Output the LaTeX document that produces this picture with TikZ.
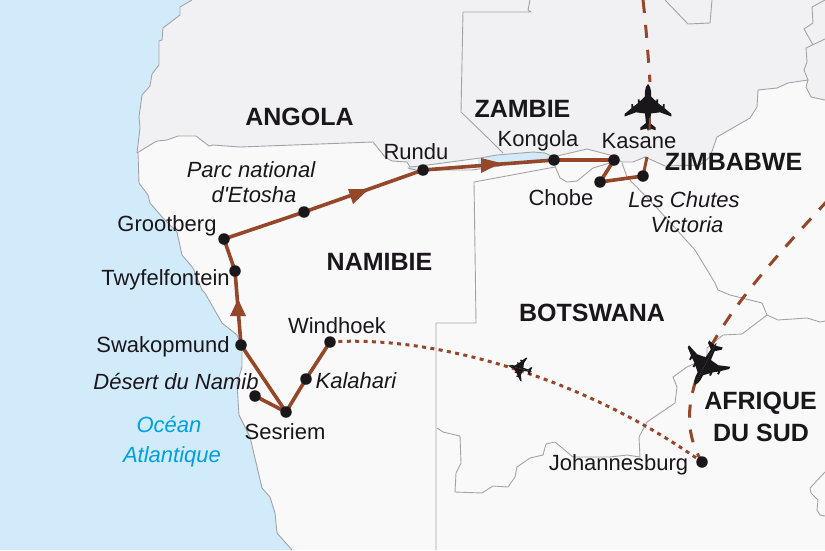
\documentclass[tikz,border=0pt]{standalone}
\usepackage{fontspec}
\setmainfont{Liberation Sans}
\usetikzlibrary{calc}
\font\etoshafont="Liberation Sans/I" at 22pt
\pgfdeclarelayer{maplayer}
\pgfdeclarelayer{routelayer}
\pgfsetlayers{maplayer,routelayer,main}
\definecolor{sea}{HTML}{D2EBFB}
\definecolor{land}{HTML}{FAF9FA}
\definecolor{north}{HTML}{F1F1F3}
\definecolor{border}{HTML}{A5A2A5}
\definecolor{route}{HTML}{95472A}
\definecolor{ink}{HTML}{1A171B}
\definecolor{oceanblue}{HTML}{009FE3}
\tikzset{
  x=1pt,y=-1pt,
  bord/.style={draw=border,line width=0.9pt,line join=round},
  leg/.style={draw=route,line width=3.6pt,line cap=round},
  legdash/.style={draw=route,line width=3pt,dash pattern=on 13pt off 12pt},
  legdot/.style={draw=route,line width=3pt,dash pattern=on 4pt off 4.4pt},
  head/.style={fill=route,draw=none},
  city/.style={circle,fill=ink,draw=none,minimum size=11.5pt,inner sep=0pt},
  lab/.style={anchor=base,inner sep=0pt,text=ink,font=\fontsize{22}{24}\selectfont},
  itl/.style={lab,font=\fontsize{22}{24}\selectfont\itshape},
  sealab/.style={itl,text=oceanblue},
  country/.style={anchor=base,inner sep=0pt,text=ink,font=\fontsize{25}{27}\selectfont\bfseries},
  jet/.pic={
    \foreach \s in {1,-1}{
      \fill[ink,xscale=\s] (0,-23.5) .. controls (2,-21.5) and (2.8,-19.5) .. (3,-16)
        -- (3.1,-11) -- (8.3,-6) -- (8.3,-8.2) -- (10.2,-8.2) -- (10.2,-4.2) -- (14.8,-0.8)
        -- (14.8,-3.4) -- (16.7,-3.4) -- (16.7,0.8) -- (23.3,6.4) -- (23.3,9)
        -- (12,4.8) -- (3,6) -- (2.1,15.5) -- (7.6,20) -- (7.6,22.6) -- (1,21) -- (0,23.5) -- cycle;
    }
  }
}
\begin{document}
\begin{tikzpicture}
\useasboundingbox (0,0) rectangle (825,550);
\begin{pgfonlayer}{maplayer}
\begin{scope}
\clip (0,0) rectangle (825,550);
\fill[land] (0,0) rectangle (825,550);
% sea
\fill[sea] (0,0) -- (192,0) -- (180,7) -- (180,15) -- (163,28) -- (162,40) -- (159,41) -- (159,65) -- (152,74) -- (150,86) -- (142,95) -- (139,117) -- (140,128) -- (137,153)
  -- (139,183) -- (148,195) -- (150,203) -- (163,218) -- (177,232) -- (182,255) -- (193,268) -- (202,290) -- (205,293) -- (222,323) -- (237,335) -- (242,347) -- (242,367) -- (237,383) -- (239,415) -- (250,437) -- (262,488) -- (270,497) -- (275,513) -- (277,533) -- (292,550) -- (0,550) -- cycle;
% northern countries
\fill[north] (192,0) -- (180,7) -- (180,15) -- (163,28) -- (162,40) -- (159,41) -- (159,65) -- (152,74) -- (150,86) -- (142,95) -- (139,117) -- (140,128) -- (137,153)
  -- (155,142) -- (157,141) -- (167,140) -- (178,136) -- (196,136) -- (209,146) -- (213,145) -- (240,147) -- (373,142) -- (385,157) -- (392,161) -- (407,162) -- (410,167) -- (420,166) -- (443,163) -- (480,158) -- (497,155) -- (533,152) -- (545,153) -- (553,157) -- (587,149) -- (610,155) -- (622,162) -- (633,162) -- (645,157) -- (665,166) -- (700,165) -- (710,157) -- (717,137) -- (750,118) -- (757,107) -- (758,90) -- (777,88) -- (788,83) -- (808,80) -- (806,87) -- (811,97) -- (825,100) -- (825,0) -- cycle;
% lake
\fill[sea] (478,159) -- (497,155) -- (533,152) -- (545,153) -- (553,158) -- (553,162) -- (500,166) -- (478,168) -- cycle;
\fill[sea] (407,167) -- (416,166.5) -- (416,170) -- (410,171) -- cycle;
% coast
\path[bord] (192,0) -- (180,7) -- (180,15) -- (163,28) -- (162,40) -- (159,41) -- (159,65) -- (152,74) -- (150,86) -- (142,95) -- (139,117) -- (140,128) -- (137,153)
  (138,153) -- (139,183) -- (148,195) -- (150,203) -- (163,218) -- (177,232) -- (182,255) -- (193,268) -- (202,290) -- (205,293) -- (222,323) -- (237,335) -- (242,347) -- (242,367) -- (237,383) -- (239,415) -- (250,437) -- (262,488) -- (270,497) -- (275,513) -- (277,533) -- (292,550);
% Angola / Namibia, Caprivi
\path[bord] (137,153) -- (155,142) -- (157,141) -- (167,140) -- (178,136) -- (196,136) -- (209,146) -- (213,145) -- (240,147) -- (373,142) -- (385,157) -- (392,161) -- (407,162) -- (410,167) -- (420,166) -- (443,163) -- (480,158) -- (497,155) -- (533,152) -- (545,153) -- (553,157) -- (587,149) -- (610,155) -- (622,162) -- (633,162) -- (645,157) -- (665,166) -- (700,165) -- (710,157) -- (717,137) -- (750,118) -- (757,107) -- (758,90) -- (777,88) -- (788,83) -- (808,80) -- (806,87) -- (811,97) -- (825,100);
\path[bord] (408,168) -- (420,171) -- (443,170) -- (472,170) -- (500,166);
% Zambia / Angola
\path[bord] (530,0) -- (528,10) -- (531,12) -- (463,12) -- (461,112) -- (490,140) -- (503,153);
% north misc
\path[bord] (665,0) -- (688,24) -- (710,23) -- (712,0);
\path[bord] (808,80) -- (804,70) -- (807,62) -- (806,48) -- (825,39);
\path[bord] (813,45) -- (804,29) -- (813,23) -- (812,7) -- (825,0);
% Namibia / Botswana
\path[bord] (555,167) -- (474,182) -- (475,250) -- (476,323) -- (436,323) -- (436,550);
% Chobe
\path[bord] (555,166) -- (560,178) -- (567,182) -- (577,181) -- (593,168) -- (613,162);
% Botswana / Zimbabwe
\path[bord] (622,163) -- (627,177) -- (657,208) -- (695,250) -- (715,283) -- (718,290) -- (730,295) -- (762,303) -- (767,315) -- (742,334) -- (723,335) -- (707,348) -- (707,358) -- (687,367) -- (673,377) -- (677,387) -- (675,403) -- (647,422) -- (639,437) -- (640,457) -- (627,455) -- (610,457) -- (573,457) -- (555,442) -- (546,444) -- (543,455) -- (530,458) -- (517,467) -- (515,477) -- (508,487) -- (493,486) -- (482,493) -- (455,492) -- (456,473) -- (461,463) -- (460,436) -- (443,432) -- (437,428);
\path[bord] (767,315) -- (778,320) -- (807,318) -- (820,322) -- (825,321);
\path[bord] (825,472) -- (810,488) -- (811,493) -- (818,500) -- (817,510) -- (820,515) -- (825,516);
\end{scope}
\end{pgfonlayer}
% cities
\node[city] (wh) at (330,342) {};
\node[city] (ka) at (306,379) {};
\node[city] (se) at (286,412) {};
\node[city] (de) at (255,396) {};
\node[city] (sw) at (241,345) {};
\node[city] (tw) at (235,271) {};
\node[city] (gr) at (224,239) {};
\node[city] (et) at (304,212) {};
\node[city] (ru) at (423,170) {};
\node[city] (ko) at (554,160) {};
\node[city] (kz) at (614,160) {};
\node[city] (ch) at (600,182) {};
\node[city] (vi) at (643,176) {};
\node[city] (jo) at (702,462) {};
\coordinate (top) at (643,0);
\coordinate (topend) at (650,82);
\coordinate (east) at (828,200);
\coordinate (tailtop) at (650,118);
\coordinate (tailend) at (649.5,130);
\coordinate (vitop) at (647,157);
\begin{pgfonlayer}{routelayer}
\path[leg] (wh.center) -- (ka.center) -- (se.center) -- (de.center);
\path[leg] (se.center) -- (sw.center) -- (tw.center) -- (gr.center) -- (et.center) -- (ru.center) -- (ko.center) -- (kz.center) -- (ch.center) -- (vi.center);
\fill[head] (238,299) -- (246,316) -- (230,316) -- cycle;
\fill[head] (369,189) -- (353,204) -- (348,189) -- cycle;
\fill[head] (501,163) -- (481,173) -- (481,158) -- cycle;
\path[legdash] (top) .. controls (646,25) and (648,55) .. (topend);
\path[legdash] (east) .. controls (750,285) and (655,385) .. (jo.center);
\path[legdot] (wh.center) .. controls (430,335) and (580,375) .. (jo.center);
\path[draw=route,line width=3pt] (vitop) -- (vi.center);
\end{pgfonlayer}
% labels
\node[country] (angola) at (299.5,125) {ANGOLA};
\node[country] (zambie) at (522.5,117) {ZAMBIE};
\node[country] (zim) at (733.5,170) {ZIMBABWE};
\node[country] (nam) at (379.5,270) {NAMIBIE};
\node[country] (bot) at (592,321) {BOTSWANA};
\node[country] (afr) at (760.5,409) {AFRIQUE};
\node[country] (dus) at (761,441) {DU SUD};
\node[lab] (lru) at (416,159) {Rundu};
\node[lab] (lko) at (538,146) {Kongola};
\node[lab] (lkz) at (639,148) {Kasane};
\node[lab] (lch) at (561,205) {Chobe};
\node[lab] (lgr) at (167,231) {Grootberg};
\node[lab] (ltw) at (165.5,285) {Twyfelfontein};
\node[lab] (lsw) at (163,352) {Swakopmund};
\node[lab] (lwh) at (337,333) {Windhoek};
\node[lab] (lse) at (285,439) {Sesriem};
\node[lab] (ljo) at (618.5,470) {Johannesburg};
\node[itl] (let1) at (251,177) {Parc national};
\node[itl] (let2) at (254,202) {{\etoshafont d'Etosha}};
\node[itl] (lde) at (176,389) {Désert du Namib};
\node[itl] (lka) at (356,388) {Kalahari};
\node[itl] (lvi1) at (684,207) {Les Chutes};
\node[itl] (lvi2) at (687,232) {Victoria};
\node[sealab] (oc1) at (169,432) {Océan};
\node[sealab] (oc2) at (172,462) {Atlantique};
% planes
\pic at (648,107.5) {jet};
\pic[rotate=152.5] at (705.5,364) {jet};
\pic[rotate=76,scale=0.52] at (520,368.5) {jet};
\path[draw=route,line width=2pt] (tailtop) -- (tailend);
\end{tikzpicture}
\end{document}
